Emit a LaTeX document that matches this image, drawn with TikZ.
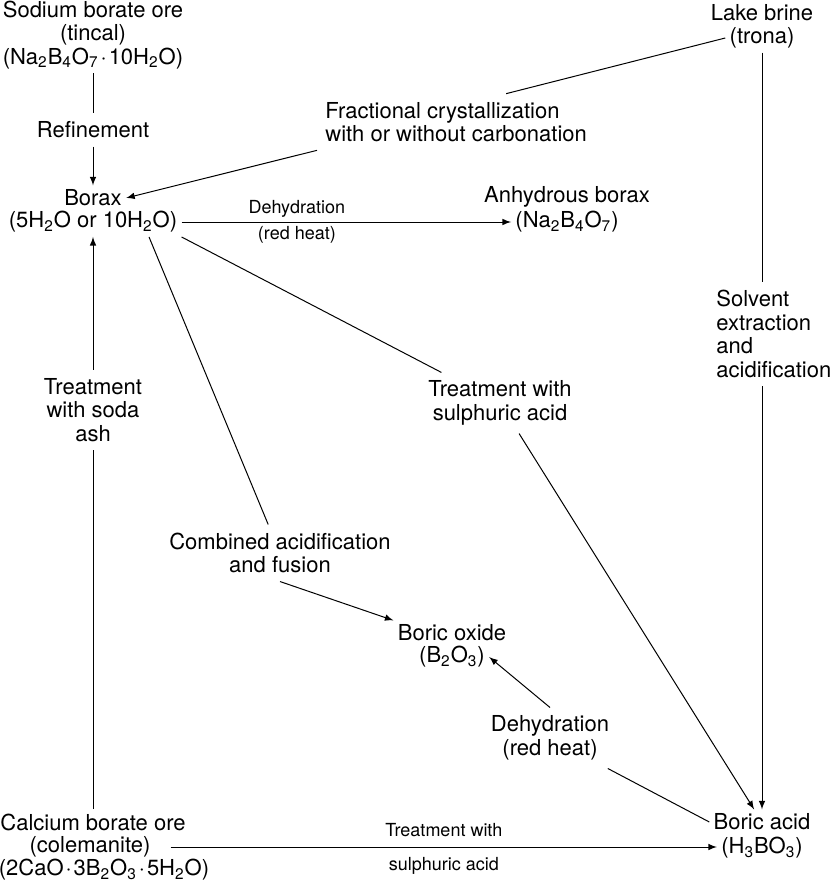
\documentclass[tikz,border=0pt]{standalone}
\usepackage{fontspec}
\setmainfont{TeX Gyre Heros}
\usetikzlibrary{arrows,positioning}

\newcommand{\chsub}[1]{\textsubscript{#1}}
\newcommand{\hyd}{\kern1pt\textperiodcentered\kern1pt}

\begin{document}
\begin{tikzpicture}[x=0.5pt, y=-0.5pt, >=latex]
  \tikzstyle{chem} = [align=center, inner sep=2pt, font=\fontsize{11}{11.75}\selectfont]
  \tikzstyle{proc} = [chem, inner sep=4pt]
  \tikzstyle{cond} = [font=\fontsize{9}{10}\selectfont, inner sep=2pt]
  \tikzstyle{conn} = [line width=0.5pt]

  \useasboundingbox (0,0) rectangle (837,882);

  \node (tincal) [chem] at (93,35) {Sodium borate ore\\(tincal)\\(Na\chsub{2}B\chsub{4}O\chsub{7}\hyd 10H\chsub{2}O)};
  \node (refine) [proc] at (93,130) {Refinement};
  \node (borax) [chem] at (93,198) {Borax};
  \node (boraxf) [chem] at (93,222) {(5H\chsub{2}O or 10H\chsub{2}O)};
  \node (frac) [proc, align=left, anchor=west] at (317,122) {Fractional crystallization\\with or without carbonation};
  \node (lake) [chem] at (762,13) {Lake brine};
  \node (trona) [chem] at (762,38) {(trona)};
  \node (anhyd) [chem] at (567,197) {Anhydrous borax};
  \node (anhydf) [chem] at (567,222) {(Na\chsub{2}B\chsub{4}O\chsub{7})};
  \node (solvent) [proc, align=left, anchor=west] at (708,334) {Solvent\\extraction\\and\\acidification};
  \node (soda) [proc] at (93,410) {Treatment\\with soda\\ash};
  \node (sulph) [proc] at (500,403) {Treatment with\\sulphuric acid};
  \node (comb) [proc] at (280,553) {Combined acidification\\and fusion};
  \node (oxide) [chem] at (452,633) {Boric oxide};
  \node (oxidef) [chem] at (452,657) {(B\chsub{2}O\chsub{3})};
  \node (dehyd) [proc] at (550,738) {Dehydration\\(red heat)};
  \node (colem) [chem] at (93,822) {Calcium borate ore};
  \node (colemn) [chem] at (90,847) {(colemanite)};
  \node (colemf) [chem] at (104,870) {(2CaO\hyd 3B\chsub{2}O\chsub{3}\hyd 5H\chsub{2}O)};
  \node (boric) [chem] at (762,822) {Boric acid};
  \node (boricf) [chem] at (762,848) {(H\chsub{3}BO\chsub{3})};

  % borax routes
  \draw [conn] (tincal) -- (refine);
  \draw [conn,->] (refine) -- (borax);
  \draw [conn] (trona.west) -- ([xshift=25pt]frac.north);
  \draw [conn,->] (frac.south west) -- (borax.east);
  \draw [conn,->] (boraxf) -- (anhydf)
    node [cond, above, pos=0.35] {Dehydration}
    node [cond, below, pos=0.35] {(red heat)};
  \draw [conn] (colem) -- (soda);
  \draw [conn,->] (soda) -- (boraxf);

  % boric acid and oxide
  \draw [conn] (trona) -- (trona |- solvent.north);
  \draw [conn,->] (trona |- solvent.south) -- (boric);
  \draw [conn] ([xshift=28pt]boraxf.south) -- (comb);
  \draw [conn,->] (comb.south) -- (oxide.north west);
  \draw [conn] (boraxf.south east) -- (sulph);
  \draw [conn,->] (sulph) -- (boric);
  \draw [conn] (boric.west) -- (dehyd);
  \draw [conn,->] (dehyd.north) -- (oxidef.east);
  \draw [conn,->] ([xshift=8pt]colemn.east) -- (colemn.east -| boricf.west)
    node [cond, above, midway, inner sep=5pt] {Treatment with}
    node [cond, below, midway, inner sep=5pt] {sulphuric acid};
\end{tikzpicture}
\end{document}
